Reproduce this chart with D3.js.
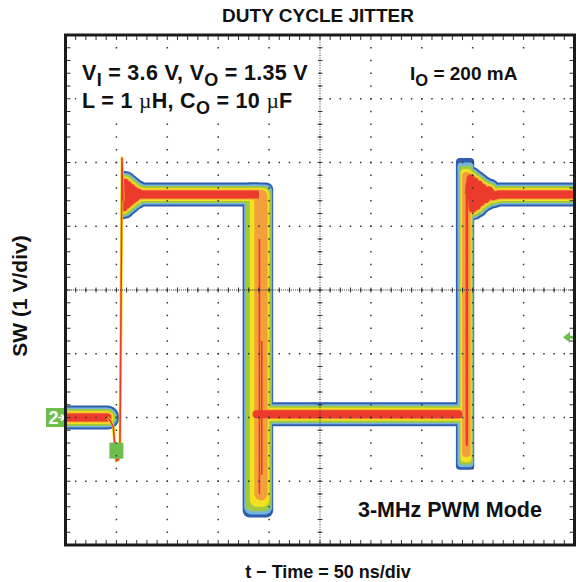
<!DOCTYPE html>
<html><head><meta charset="utf-8">
<script src="https://cdn.jsdelivr.net/npm/d3@7"></script>
<style>body{margin:0;background:#fff}</style>
</head><body>
<svg id="chart" width="577" height="582"></svg>
<script>
// Oscilloscope graticule: 50 ns/div x 10 div, 1 V/div x 8 div
const timeDomain = [0, 500];
const voltDomain = [-2, 6];
const timeDivs = d3.range(0, 501, 50);
const voltDivs = d3.range(-2, 6.01, 1);

// persistence colour layers, outermost first
const layerNames  = ["blue", "lightblue", "green", "yellow", "orange", "red"];
const layerColors = ["#2f5eae", "#74b4df", "#a2c83f", "#f3e11f", "#f3a03c", "#ec3a2c"];
const layerWidths = [24, 20, 17, 13, 10, 8];

// falling-edge jitter band per layer (ns, ns, undershoot V)
const fallStart  = [174, 175.5, 176.8, 181, 185.5, null];
const fallEnd    = [204, 203, 201.8, 200.2, 198.5, null];
const fallBottom = [-1.57, -1.52, -1.47, -1.4, -1.3, null];

// rising-edge jitter band per layer (ns, ns, dip V, spike V)
const riseStart  = [383.5, 385, 386.5, 388, 389.5, 393];
const riseEnd    = [401.5, 400.8, 400, 399, 398, 395.5];
const riseBottom = [-0.82, -0.78, -0.74, -0.7, -0.62, -0.45];
const riseTop    = [4.07, 4.0, 3.95, 3.9, 3.85, 3.7];

// switch-node trace segments (time ns, volts)
const groundT = [0, 41];
const groundV = [0, 0];
const highLeftT = [55.5, 57, 58.5, 60, 61.5, 63, 64.5, 66, 67.5, 69, 71, 74, 190];
const highLeftV = [3.72, 3.3, 3.68, 3.34, 3.64, 3.38, 3.6, 3.42, 3.56, 3.45, 3.53, 3.5, 3.5];
const lowT = [188, 386];
const lowV = [0.05, 0.05];
const highRightT = [396, 398, 400, 402, 404, 406, 408, 410, 413, 416, 420, 426, 500];
const highRightV = [3.5, 3.75, 3.28, 3.7, 3.32, 3.65, 3.38, 3.6, 3.43, 3.56, 3.47, 3.5, 3.5];

// first (trigger) rising edge, a single thin trace
const edgeT = [41, 44, 47, 48.5, 50, 52, 53.5, 54.5, 55.5, 56.5];
const edgeV = [0, -0.05, -0.15, -0.45, -0.68, -0.66, -0.4, 1.6, 4.07, 3.4];

// dense strikes inside the falling-edge band
const streakT = [190.5, 192.8];
const streakTop = [2.8, 1.2];
const streakBottom = [-1.2, -0.9];

// markers
const channelLevel = 0;      // channel 2 ground reference
const triggerLevel = 1.26;   // trigger level arrow
const triggerT = 50, triggerV = -0.52;

const svg = d3.select("#chart");
const x = d3.scaleLinear().domain(timeDomain).range([65.5, 574.5]);
const y = d3.scaleLinear().domain(voltDomain).range([545, 35]);
const zip = (a, b) => a.map((d, i) => [d, b[i]]);
const line = d3.line().x(d => x(d[0])).y(d => y(d[1]));

svg.append("rect").attr("width", 577).attr("height", 582).attr("fill", "#fff");

const defs = svg.append("defs");
defs.append("clipPath").attr("id", "plotClip")
  .append("rect").attr("x", x(0)).attr("y", y(6)).attr("width", x(500) - x(0)).attr("height", y(-2) - y(6));
// the ringing after the first edge only exists to the right of that edge
defs.append("clipPath").attr("id", "afterEdge")
  .append("rect").attr("x", x(highLeftT[0]) - 0.5).attr("y", y(6)).attr("width", x(500) - x(highLeftT[0])).attr("height", y(-2) - y(6));

const traceG = svg.append("g").attr("clip-path", "url(#plotClip)");
const segments = [
  { pts: zip(groundT, groundV), cap: "round", clip: null },
  { pts: zip(highLeftT, highLeftV), cap: "butt", clip: "url(#afterEdge)" },
  { pts: zip(lowT, lowV), cap: "round", clip: null },
  { pts: zip(highRightT, highRightV), cap: "butt", clip: null }
];

layerNames.forEach((name, i) => {
  const g = traceG.append("g").attr("class", "layer-" + name);
  const w = layerWidths[i], c = layerColors[i];
  segments.forEach(seg => {
    const p = g.append("path").attr("d", line(seg.pts)).attr("fill", "none")
      .attr("stroke", c).attr("stroke-width", w)
      .attr("stroke-linejoin", "round").attr("stroke-linecap", seg.cap);
    if (seg.clip) p.attr("clip-path", seg.clip);
  });
  if (fallStart[i] != null) {
    const top = y(3.5) - w / 2;
    g.append("rect")
      .attr("x", x(fallStart[i])).attr("y", top)
      .attr("width", x(fallEnd[i]) - x(fallStart[i]))
      .attr("height", y(fallBottom[i]) - top)
      .attr("rx", 7).attr("fill", c);
  }
  g.append("rect")
    .attr("x", x(riseStart[i])).attr("y", y(riseTop[i]))
    .attr("width", x(riseEnd[i]) - x(riseStart[i]))
    .attr("height", y(riseBottom[i]) - y(riseTop[i]))
    .attr("rx", 4).attr("fill", c);
});

// strikes in the falling band
streakT.forEach((t, i) => {
  traceG.append("line").attr("x1", x(t)).attr("x2", x(t))
    .attr("y1", y(streakTop[i])).attr("y2", y(streakBottom[i]))
    .attr("stroke", layerColors[5]).attr("stroke-width", 1.6);
});

// trigger-position marker
svg.append("rect")
  .attr("x", x(triggerT) - 7).attr("y", y(triggerV) - 8)
  .attr("width", 14).attr("height", 16).attr("fill", "#6cbf4a");

// thin trigger edge
const edge = zip(edgeT, edgeV);
traceG.append("path").attr("d", line(edge)).attr("fill", "none")
  .attr("stroke", layerColors[3]).attr("stroke-width", 3).attr("stroke-linejoin", "round");
traceG.append("path").attr("d", line(edge)).attr("fill", "none")
  .attr("stroke", layerColors[5]).attr("stroke-width", 1.6).attr("stroke-linejoin", "round");

// graticule dots
const grid = svg.append("g").attr("fill", "#333");
timeDivs.slice(1, -1).forEach(t => {
  d3.range(-2, 6.001, 0.2).slice(1, -1).forEach(v => {
    grid.append("rect").attr("x", x(t) - 0.75).attr("y", y(v) - 0.75).attr("width", 1.5).attr("height", 1.5);
  });
});
voltDivs.slice(1, -1).forEach(v => {
  d3.range(0, 500.01, 10).slice(1, -1).forEach(t => {
    grid.append("rect").attr("x", x(t) - 0.75).attr("y", y(v) - 0.75).attr("width", 1.5).attr("height", 1.5);
  });
});
// centre axes: fine dots plus minor ticks
d3.range(-2, 6.001, 0.04).forEach(v => {
  grid.append("rect").attr("x", x(250) - 0.5).attr("y", y(v) - 0.5).attr("width", 1).attr("height", 1);
});
d3.range(0, 500.01, 2).forEach(t => {
  grid.append("rect").attr("x", x(t) - 0.5).attr("y", y(2) - 0.5).attr("width", 1).attr("height", 1);
});
const ticks = svg.append("g").attr("stroke", "#333").attr("stroke-width", 1);
d3.range(-2, 6.001, 0.2).forEach(v => {
  ticks.append("line").attr("x1", x(250) - 2.5).attr("x2", x(250) + 2.5).attr("y1", y(v)).attr("y2", y(v));
  ticks.append("line").attr("x1", x(0)).attr("x2", x(0) + 5).attr("y1", y(v)).attr("y2", y(v));
  ticks.append("line").attr("x1", x(500)).attr("x2", x(500) - 5).attr("y1", y(v)).attr("y2", y(v));
});
d3.range(0, 500.01, 10).forEach(t => {
  ticks.append("line").attr("y1", y(2) - 2.5).attr("y2", y(2) + 2.5).attr("x1", x(t)).attr("x2", x(t));
  ticks.append("line").attr("y1", y(6)).attr("y2", y(6) + 5).attr("x1", x(t)).attr("x2", x(t));
  ticks.append("line").attr("y1", y(-2)).attr("y2", y(-2) - 5).attr("x1", x(t)).attr("x2", x(t));
});

// label panels
const font = "'Liberation Sans', Arial, sans-serif";
const panel = (px, py, w, h) => svg.append("rect").attr("x", px).attr("y", py).attr("width", w).attr("height", h).attr("fill", "#fff");
panel(76, 54, 242, 68);
panel(402, 58, 124, 36);
panel(346, 487, 208, 46);

const label = (tx, ty, size) => svg.append("text").attr("x", tx).attr("y", ty)
  .attr("font-family", font).attr("font-weight", "bold").attr("font-size", size).attr("fill", "#111");

const t1 = label(82, 80, 21.5).attr("letter-spacing", 0.3);
t1.append("tspan").text("V");
t1.append("tspan").attr("dy", 6).attr("font-size", 18).text("I");
t1.append("tspan").attr("dy", -6).text(" = 3.6 V, V");
t1.append("tspan").attr("dy", 6).attr("font-size", 18).text("O");
t1.append("tspan").attr("dy", -6).text(" = 1.35 V");

const t2 = label(82, 108, 21.5).attr("letter-spacing", 0.3);
t2.append("tspan").text("L = 1 ");
t2.append("tspan").attr("font-family", "'Liberation Serif', serif").attr("font-weight", "normal").text("µ");
t2.append("tspan").text("H, C");
t2.append("tspan").attr("dy", 6).attr("font-size", 18).text("O");
t2.append("tspan").attr("dy", -6).text(" = 10 ");
t2.append("tspan").attr("font-family", "'Liberation Serif', serif").attr("font-weight", "normal").text("µ");
t2.append("tspan").text("F");

const t3 = label(410, 80, 19);
t3.append("tspan").text("I");
t3.append("tspan").attr("dy", 6).attr("font-size", 16.5).text("O");
t3.append("tspan").attr("dy", -6).text(" = 200 mA");

label(358, 517, 21.5).text("3-MHz PWM Mode");

// titles
label(318, 22, 19).attr("text-anchor", "middle").text("DUTY CYCLE JITTER");
label(328, 578, 18).attr("text-anchor", "middle").text("t \u2212 Time = 50 ns/div");
label(0, 0, 21).attr("text-anchor", "middle")
  .attr("transform", `translate(27,${y(2) + 6}) rotate(-90)`).text("SW (1 V/div)");

// channel 2 reference marker
const cy = y(channelLevel);
svg.append("rect").attr("x", 46).attr("y", cy - 9.5).attr("width", 20).attr("height", 19).attr("fill", "#6cbf4a");
svg.append("text").attr("x", 48.5).attr("y", cy + 6.5).attr("font-family", font).attr("font-weight", "bold")
  .attr("font-size", 18).attr("fill", "#fff").text("2");
svg.append("path").attr("d", `M58,${cy}H63M61,${cy - 3}L65,${cy}L61,${cy + 3}`)
  .attr("stroke", "#fff").attr("stroke-width", 1.6).attr("fill", "none");

// trigger level arrow
const ty = y(triggerLevel);
svg.append("path").attr("d", `M563,${ty}L570,${ty - 5.5}V${ty - 1.5}H574V${ty + 1.5}H570V${ty + 5.5}Z`).attr("fill", "#6cbf4a");

// frame
svg.append("rect").attr("x", x(0)).attr("y", y(6)).attr("width", x(500) - x(0)).attr("height", y(-2) - y(6))
  .attr("fill", "none").attr("stroke", "#1b1b1b").attr("stroke-width", 3);
</script>
</body></html>
